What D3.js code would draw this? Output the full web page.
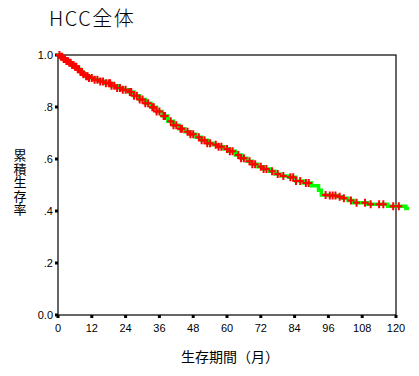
<!DOCTYPE html>
<html>
<head>
<meta charset="utf-8">
<script src="https://cdn.jsdelivr.net/npm/d3@7"></script>
<style>
  body { margin: 0; background: #fff; }
  svg { display: block; }
  text { fill: #000; }
</style>
</head>
<body>
<div id="chart"></div>
<script>
// step curve: time (months) and cumulative survival
const eventTimes = [0, 1, 2, 3, 4, 5, 6, 7, 8, 9, 10, 11, 13, 15, 17, 19, 21, 23, 25, 27,
  29, 31, 33, 35, 37, 39, 41, 43, 45, 47, 49, 51, 53, 55, 57, 59, 61, 63, 65, 67,
  69, 71, 73, 75, 77, 79, 82, 84.5, 87, 90, 92.5, 93.5, 96, 99, 101, 103, 105, 110,
  117, 123.5, 124];
const survival = [1.0, 0.993, 0.985, 0.977, 0.97, 0.962, 0.955, 0.945, 0.935, 0.926, 0.918,
  0.912, 0.905, 0.898, 0.891, 0.882, 0.873, 0.866, 0.858, 0.843, 0.829, 0.814, 0.799,
  0.783, 0.765, 0.745, 0.73, 0.716, 0.705, 0.695, 0.684, 0.672, 0.661, 0.655, 0.647,
  0.638, 0.63, 0.615, 0.603, 0.591, 0.58, 0.57, 0.562, 0.553, 0.542, 0.535, 0.53,
  0.515, 0.508, 0.497, 0.48, 0.462, 0.46, 0.455, 0.449, 0.44, 0.432, 0.426, 0.418,
  0.41, 0.404];
// censored observations (months)
const censorTimes = [0.5, 1, 1.5, 2, 2.5, 3, 3.5, 4, 4.5, 5, 5.5, 6, 6.5, 7, 7.5, 8, 8.5, 9,
  10, 10.5, 11, 12, 13, 14, 15, 16, 17, 18, 18.5, 19, 20, 21, 22, 23, 24, 25.5, 26,
  27, 28, 29, 30, 31, 32, 33.5, 34, 35, 36, 37.5, 38, 40, 41, 42, 43.5, 44, 46, 47,
  48, 50, 51, 52, 53, 54, 56, 57, 58, 60, 61, 62, 64, 65, 66, 68, 69, 70, 72, 73, 74,
  76, 78, 80, 82.5, 83.5, 84.5, 86, 88, 89, 95, 96.5, 97.5, 98.5, 100, 101.5, 104,
  106, 109, 111, 114, 115.5, 119, 121];

const xTicks = [0, 12, 24, 36, 48, 60, 72, 84, 96, 108, 120];
const yTicks = [0, 0.2, 0.4, 0.6, 0.8, 1.0];
const yTickLabels = ["0.0", ".2", ".4", ".6", ".8", "1.0"];

const width = 419, height = 376;
const margin = { top: 55, right: 23, bottom: 61, left: 58 };

const svg = d3.select("#chart").append("svg")
  .attr("width", width)
  .attr("height", height);

const x = d3.scaleLinear().domain([0, 120]).range([margin.left, width - margin.right]);
const y = d3.scaleLinear().domain([0, 1]).range([height - margin.bottom, margin.top]);

// frame
svg.append("rect")
  .attr("x", x(0))
  .attr("y", y(1))
  .attr("width", x(120) - x(0))
  .attr("height", y(0) - y(1))
  .attr("fill", "none")
  .attr("stroke", "#000")
  .attr("stroke-width", 1.2);

// y axis ticks + labels
svg.append("g")
  .selectAll("rect")
  .data(yTicks)
  .join("rect")
  .attr("x", x(0) - 3)
  .attr("y", (d) => y(d) - 1.5)
  .attr("width", 3)
  .attr("height", 3)
  .attr("fill", "#000");

svg.append("g")
  .selectAll("text")
  .data(yTicks)
  .join("text")
  .attr("x", x(0) - 5)
  .attr("y", (d) => y(d) + 4)
  .attr("text-anchor", "end")
  .attr("font-family", "Liberation Sans, Arial, sans-serif")
  .attr("font-size", 11)
  .text((d, i) => yTickLabels[i]);

// x axis ticks + labels
svg.append("g")
  .selectAll("rect")
  .data(xTicks)
  .join("rect")
  .attr("x", (d) => x(d) - 1.5)
  .attr("y", y(0))
  .attr("width", 3)
  .attr("height", 3)
  .attr("fill", "#000");

svg.append("g")
  .selectAll("text")
  .data(xTicks)
  .join("text")
  .attr("x", (d) => x(d))
  .attr("y", y(0) + 17)
  .attr("text-anchor", "middle")
  .attr("font-family", "Liberation Sans, Arial, sans-serif")
  .attr("font-size", 11)
  .text((d) => d);

// survival step line
const pts = eventTimes.map((t, i) => [t, survival[i]]);
const line = d3.line()
  .x((d) => x(d[0]))
  .y((d) => y(d[1]))
  .curve(d3.curveStepAfter);

svg.append("path")
  .datum(pts)
  .attr("fill", "none")
  .attr("stroke", "#00ff00")
  .attr("stroke-width", 3.5)
  .attr("d", line);

// censor marks
const bisect = d3.bisector((d) => d).right;
const survAt = (t) => survival[Math.max(0, bisect(eventTimes, t) - 1)];

svg.append("g")
  .selectAll("path")
  .data(censorTimes)
  .join("path")
  .attr("transform", (d) => `translate(${x(d)},${y(survAt(d))})`)
  .attr("d", "M-3.5,0H3.5M0,-4V4")
  .attr("stroke", "#ff0000")
  .attr("stroke-width", 2)
  .attr("fill", "none");

// title
svg.append("text")
  .attr("x", 49)
  .attr("y", 26)
  .attr("font-family", "Noto Sans CJK JP, sans-serif")
  .attr("font-weight", 300)
  .attr("font-size", 20)
  .attr("letter-spacing", 1.5)
  .text("HCC全体");

// y label, one vertical text
svg.append("text")
  .attr("x", 20)
  .attr("y", 149)
  .attr("writing-mode", "vertical-rl")
  .attr("font-family", "Noto Sans CJK JP, sans-serif")
  .attr("font-size", 13)
  .attr("letter-spacing", 0.5)
  .text("累積生存率");

// x label
svg.append("text")
  .attr("x", 230)
  .attr("y", 362)
  .attr("text-anchor", "middle")
  .attr("font-family", "Noto Sans CJK JP, sans-serif")
  .attr("font-size", 14)
  .text("生存期間（月）");
</script>
</body>
</html>
